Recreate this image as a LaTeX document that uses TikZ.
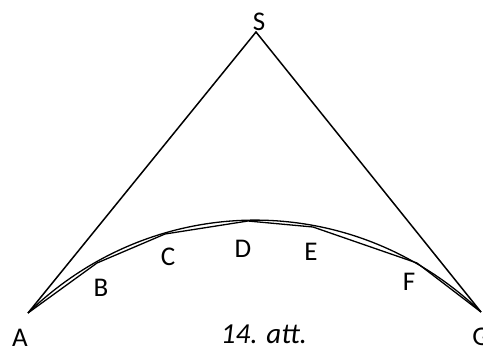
\documentclass[tikz,border=0pt]{standalone}
\usepackage{fontspec}
\setmainfont{Carlito}
\usetikzlibrary{positioning}

\begin{document}
\begin{tikzpicture}[x=1pt,y=-1pt,
    lbl/.style={inner sep=0pt,font=\fontsize{27}{32}\selectfont},
    side/.style={line width=1.5pt},
    chord/.style={line width=1.3pt}]
  \useasboundingbox (0,0) rectangle (483,349);
  % points of the arc and the apex
  \coordinate (S) at (256,32);
  \coordinate (A) at (28,313);
  \coordinate (B) at (97,263);
  \coordinate (C) at (165,234);
  \coordinate (D) at (248,221);
  \coordinate (E) at (313,227);
  \coordinate (F) at (417,263);
  \coordinate (G) at (481,312);
  \draw[side] (A) -- (S) -- (G);
  \draw[chord] (A) -- (B) -- (C) -- (D) -- (E) -- (F) -- (G);
  \draw[chord] (A) to[bend left=44] (G);
  % labels
  \node[lbl] (lS) at (259,22) {S};
  \node[lbl] (lA) at (20,338) {A};
  \node[lbl] (lB) at (101,288) {B};
  \node[lbl] (lC) at (168,257) {C};
  \node[lbl] (lD) at (243,249) {D};
  \node[lbl] (lE) at (311,252) {E};
  \node[lbl] (lF) at (409,282) {F};
  \node[lbl] (lG) at (481,337) {G};
  \node[lbl,font=\fontsize{29}{34}\selectfont\itshape] (cap) at (264,334) {14. att.};
\end{tikzpicture}
\end{document}
